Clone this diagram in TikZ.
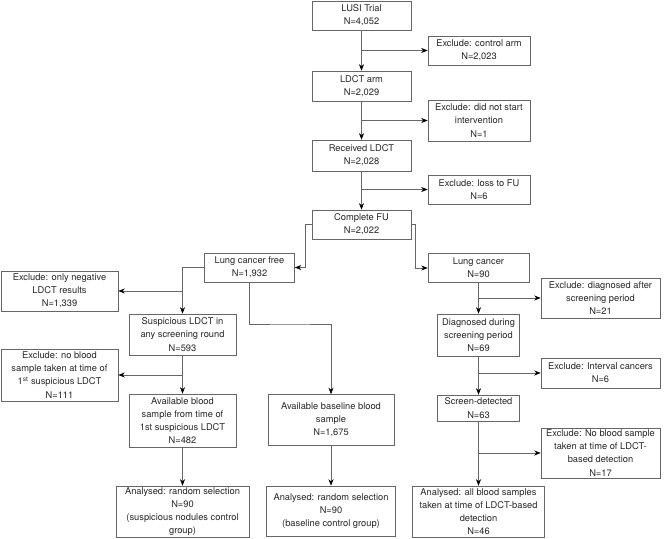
\documentclass[tikz,border=0pt]{standalone}
\usepackage{fontspec}
\setmainfont{TeX Gyre Heros}
\usetikzlibrary{arrows.meta, positioning}

\begin{document}
\begin{tikzpicture}[x=1pt, y=-1pt,
  box/.style={draw=black!60, line width=0.6pt, align=center, inner sep=1pt,
    text=black!85, font=\fontsize{9.3}{13.2}\selectfont},
  arr/.style={draw=black!60, line width=0.6pt, -{Stealth[length=6.5pt, width=5pt, black]}},
  line/.style={draw=black!60, line width=0.6pt}]
\useasboundingbox (0,0) rectangle (669,538);

% Top: main trial column
\node[box, minimum width=99, minimum height=29] (trial) at (361.5,15.5) {LUSI Trial\\N=4,052};
\node[box, minimum width=99, minimum height=30] (ldct) at (361.5,86) {LDCT arm\\N=2,029};
\node[box, minimum width=99, minimum height=31] (recv) at (361.5,155.5) {Received LDCT\\N=2,028};
\node[box, minimum width=99, minimum height=29] (fu) at (361.5,224.5) {Complete FU\\N=2,022};

% Exclusions top
\node[box, minimum width=102, minimum height=29] (exArm) at (479,50.5) {Exclude: control arm\\N=2,023};
\node[box, minimum width=102, minimum height=41] (exStart) at (479,120.5) {Exclude: did not start\\intervention\\N=1};
\node[box, minimum width=102, minimum height=29] (exFU) at (479,189.5) {Exclude: loss to FU\\N=6};

\draw[arr] (trial) -- (ldct);
\draw[arr] (trial.south |- exArm) -- (exArm);
\draw[arr] (ldct) -- (recv);
\draw[arr] (ldct.south |- exStart) -- (exStart);
\draw[arr] (recv) -- (fu);
\draw[arr] (recv.south |- exFU) -- (exFU);

% Left: lung cancer free
\node[box, minimum width=90, minimum height=29] (free) at (249.5,267.5) {Lung cancer free\\N=1,932};
\node[box, minimum width=117, minimum height=40] (exNeg) at (59.5,291) {Exclude: only negative\\LDCT results\\N=1,339};
\node[box, minimum width=107, minimum height=41] (susp) at (182.5,334.5) {Suspicious LDCT in\\any screening round\\N=593};
\node[box, minimum width=117, minimum height=52] (exBlood) at (59.5,375) {Exclude: no blood\\sample taken at time of\\1\textsuperscript{st} suspicious LDCT\\N=111};
\node[box, minimum width=107, minimum height=53] (avail) at (182.5,420.5) {Available blood\\sample from time of\\1st suspicious LDCT\\N=482};
\node[box, minimum width=133, minimum height=51] (anaL) at (182.5,511.5) {Analysed: random selection\\N=90\\(suspicious nodules control\\group)};

% Middle: baseline controls
\node[box, minimum width=126, minimum height=51] (base) at (331,420) {Available baseline blood\\sample\\N=1,675};
\node[box, minimum width=129, minimum height=50] (anaM) at (331,511) {Analysed: random selection\\N=90\\(baseline control group)};

% Right: lung cancer
\node[box, minimum width=101, minimum height=29] (cancer) at (478.5,268) {Lung cancer\\N=90};
\node[box, minimum width=119, minimum height=40] (exAfter) at (600.5,298) {Exclude: diagnosed after\\screening period\\N=21};
\node[box, minimum width=82, minimum height=42] (diag) at (478.5,335) {Diagnosed during\\screening period\\N=69};
\node[box, minimum width=119, minimum height=30] (exInt) at (600.5,373) {Exclude: Interval cancers\\N=6};
\node[box, minimum width=82, minimum height=26] (screen) at (478.5,408) {Screen-detected\\N=63};
\node[box, minimum width=119, minimum height=50] (exNo) at (600.5,453) {Exclude: No blood sample\\taken at time of LDCT-\\based detection\\N=17};
\node[box, minimum width=132, minimum height=51] (anaR) at (478.5,511.5) {Analysed: all blood samples\\taken at time of LDCT-based\\detection\\N=46};

% Split at complete FU
\draw[arr] (fu.west) -- ++(-6,0) |- (free.east);
\draw[arr] (fu.east) -- ++(4,0) |- (cancer.west);

% Left branch
\coordinate (split) at (290,324);
\draw[arr] (free.west) -| (susp.north);
\draw[arr] (susp.north |- exNeg) -- (exNeg);
\draw[arr] (free.south) |- (split) -| (base.north);
\draw[arr] (susp) -- (avail);
\draw[arr] (susp.south |- exBlood) -- (exBlood);
\draw[arr] (avail) -- (anaL);
\draw[arr] (base) -- (anaM);

% Right branch
\draw[arr] (cancer) -- (diag);
\draw[arr] (cancer.south |- exAfter) -- (exAfter);
\draw[arr] (diag) -- (screen);
\draw[arr] (diag.south |- exInt) -- (exInt);
\draw[arr] (screen) -- (anaR);
\draw[arr] (screen.south |- exNo) -- (exNo);

\end{tikzpicture}
\end{document}
